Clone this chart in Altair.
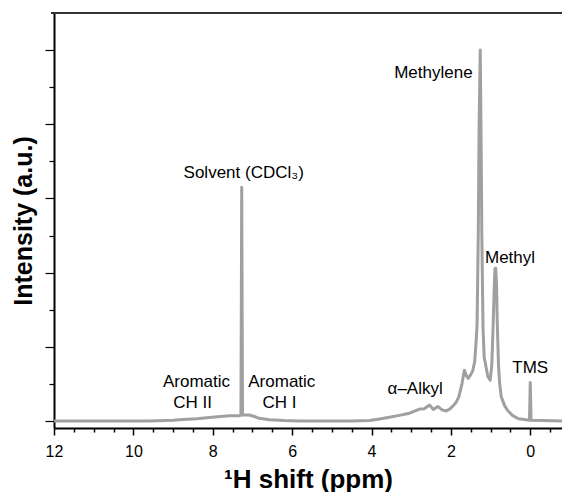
import altair as alt
import pandas as pd

# Spectrum (ppm, intensity a.u.)
ppm = [12.0, 9.6, 9.0, 8.76, 8.4, 8.09, 7.8, 7.59, 7.35, 7.29, 7.27, 7.25, 7.08, 6.95,
       6.83, 6.57, 6.2, 5.82, 5.0, 4.5, 4.05, 3.8, 3.55, 3.3, 3.04, 2.9, 2.79, 2.67,
       2.54, 2.44, 2.33, 2.22, 2.12, 2.03, 1.95, 1.87, 1.80, 1.72, 1.66, 1.60, 1.56,
       1.50, 1.45, 1.40, 1.36, 1.34, 1.31, 1.29, 1.26, 1.24, 1.22, 1.19, 1.16, 1.13,
       1.07, 1.01, 0.97, 0.94, 0.91, 0.89, 0.87, 0.85, 0.83, 0.80, 0.77, 0.73, 0.65,
       0.57, 0.45, 0.30, 0.10, 0.02, 0.0, -0.02, -0.3, -0.8]
intensity = [0.0, 0.0, 0.02, 0.04, 0.06, 0.09, 0.12, 0.14, 0.14, 0.15, 6.30, 0.16, 0.16, 0.12,
             0.07, 0.03, 0.01, 0.0, 0.0, 0.0, 0.01, 0.05, 0.10, 0.15, 0.21, 0.27, 0.32, 0.33,
             0.43, 0.31, 0.39, 0.30, 0.27, 0.32, 0.40, 0.50, 0.65, 1.0, 1.37, 1.2, 1.15,
             1.25, 1.35, 1.6, 2.2, 2.6, 5.0, 7.8, 10.0, 7.8, 5.0, 2.5, 1.7, 1.55,
             1.2, 1.10, 1.5, 2.4, 3.5, 4.1, 4.12, 3.7, 2.6, 1.5, 1.0, 0.65, 0.42,
             0.28, 0.15, 0.06, 0.03, 0.02, 1.04, 0.02, 0.01, 0.0]

# Peak annotations
ann_text = ["Solvent (CDCl\u2083)", "Methylene", "Methyl", "TMS", "\u03b1\u2013Alkyl",
            "Aromatic", "CH II", "Aromatic", "CH I"]
ann_ppm = [7.22, 2.44, 0.51, 0.0, 2.90, 8.41, 8.51, 6.26, 6.32]
ann_val = [6.55, 9.26, 4.25, 1.29, 0.73, 0.92, 0.36, 0.92, 0.36]

x_ticks = [v / 2 for v in range(-1, 25)]
y_ticks = list(range(0, 11))

W, H = 508, 415

spec = pd.DataFrame({"ppm": ppm, "intensity": intensity})
ann = pd.DataFrame({"text": ann_text, "ppm": ann_ppm, "val": ann_val})

xscale = alt.Scale(domain=[-0.8, 12], reverse=True, nice=False, zero=False)
yscale = alt.Scale(domain=[-0.19, 11.0], nice=False, zero=False)

major_x = "abs(datum.value - 2 * round(datum.value / 2)) < 0.01"

xaxis = alt.Axis(
    title="\u00b9H shift (ppm)", values=x_ticks, grid=False,
    labelExpr="abs(datum.value - 2 * round(datum.value / 2)) < 0.01 ? format(datum.value, 'd') : ''",
    labelOverlap=False, labelFlush=False,
    tickSize={"condition": {"test": major_x, "value": 7}, "value": 4},
    tickWidth=1.5, tickColor="black", domainColor="black", domainWidth=2,
    labelFont="Liberation Sans", labelFontSize=16, labelColor="black", labelPadding=8,
    titleFont="Liberation Sans", titleFontSize=26, titleFontWeight="bold",
    titleColor="black", titlePadding=7,
)
yaxis = alt.Axis(
    title="Intensity (a.u.)", values=y_ticks, grid=False, labels=False,
    tickSize={"condition": {"test": "datum.value % 2 === 0", "value": 9}, "value": 5},
    tickWidth=1.2, tickColor="black", domainColor="black", domainWidth=2,
    titleFont="Liberation Sans", titleFontSize=25, titleFontWeight="bold",
    titleColor="black", titlePadding=8,
)

line = alt.Chart(spec).mark_line(color="#a0a0a0", strokeWidth=3, strokeJoin="round").encode(
    x=alt.X("ppm:Q", scale=xscale, axis=xaxis),
    y=alt.Y("intensity:Q", scale=yscale, axis=yaxis),
)

labels = alt.Chart(ann).mark_text(
    font="Liberation Sans", fontSize=17, color="black", align="center", baseline="alphabetic"
).encode(
    x=alt.X("ppm:Q", scale=xscale, axis=xaxis),
    y=alt.Y("val:Q", scale=yscale, axis=yaxis),
    text="text:N",
)

top = alt.Chart(spec).mark_rule(color="#333333", strokeWidth=2).encode(
    x=alt.value(-3), x2=alt.value(W), y=alt.value(0)
)

chart = alt.layer(line, labels, top).properties(
    width=W, height=H,
    autosize=alt.AutoSizeParams(type="none"),
    padding={"left": 54, "top": 13, "right": 0, "bottom": 64},
).configure_view(stroke=None).configure(background="white")

chart.save("out.html", embed_options={"renderer": "svg", "actions": False})
